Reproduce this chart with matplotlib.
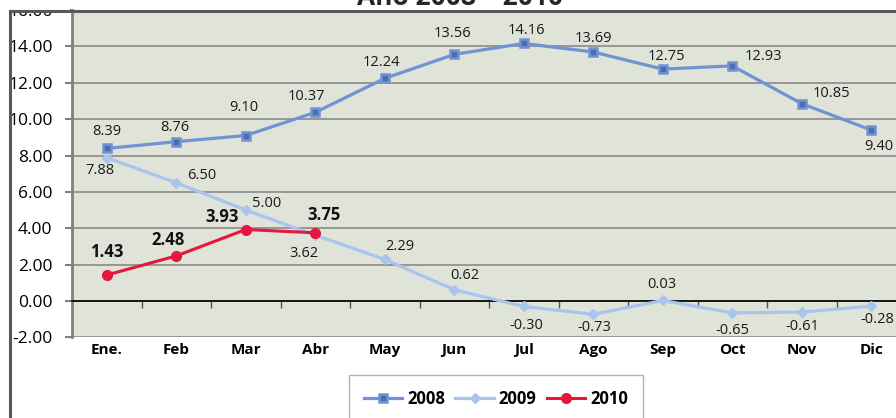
import matplotlib.pyplot as plt
from matplotlib.lines import Line2D
from matplotlib.patches import Rectangle

plt.rcParams['font.family'] = ['Open Sans', 'DejaVu Sans']

meses = ['Ene.', 'Feb', 'Mar', 'Abr', 'May', 'Jun', 'Jul', 'Ago', 'Sep', 'Oct', 'Nov', 'Dic']
v2008 = [8.39, 8.76, 9.10, 10.37, 12.24, 13.56, 14.16, 13.69, 12.75, 12.93, 10.85, 9.40]
v2009 = [7.88, 6.50, 5.00, 3.62, 2.29, 0.62, -0.30, -0.73, 0.03, -0.65, -0.61, -0.28]
v2010 = [1.43, 2.48, 3.93, 3.75]

# label offsets in pixels
off2008 = [(0, 17), (-1, 14), (-2, 28), (-9, 16), (-3, 16), (-2, 21), (3, 13), (0, 14),
           (4, 13), (31, 9), (30, 10), (8, -16)]
off2009 = [(-7, -13), (25, 7), (21, 7), (-11, -18), (15, 13), (11, 14), (3, -19), (1, -13),
           (-1, 16), (0, -18), (1, -14), (6, -13)]
off2010 = [(0, 23), (-8, 16), (-24, 13), (9, 18)]

c08, c08m = '#7093d4', '#4d6db3'
c09 = '#a9c5ee'
c10 = '#e8163e'

fig = plt.figure(figsize=(8.96, 4.18), dpi=100)
ax = fig.add_axes([72 / 896, 1 - 337.4 / 418, 834 / 896, 327.4 / 418])
ax.set_facecolor('#dfe3d8')

x = list(range(len(meses)))
ax.plot(x, v2008, color=c08, lw=2.3, marker='s', ms=5.5, mfc=c08m, mec=c08, mew=1.8, label='2008', zorder=3)
ax.plot(x, v2009, color=c09, lw=2.3, marker='D', ms=5.5, mfc=c09, mec=c09, label='2009', zorder=3)
ax.plot(x[:len(v2010)], v2010, color=c10, lw=2.2, marker='o', ms=7, mfc=c10, mec=c10, label='2010', zorder=4)

for i, v in enumerate(v2008):
    ax.annotate(f'{v:.2f}', (i, v), xytext=off2008[i], textcoords='offset pixels',
                ha='center', va='center', fontsize=10.5, color='#1a1a1a')
for i, v in enumerate(v2009):
    ax.annotate(f'{v:.2f}', (i, v), xytext=off2009[i], textcoords='offset pixels',
                ha='center', va='center', fontsize=10.5, color='#1a1a1a')
for i, v in enumerate(v2010):
    ax.annotate(f'{v:.2f}', (i, v), xytext=off2010[i], textcoords='offset pixels',
                ha='center', va='center', fontsize=12, fontweight='bold', color='#111111')

ax.set_xlim(-0.5, 11.5)
ax.set_ylim(-2, 16)
ax.set_yticks(range(-2, 17, 2))
ax.set_yticklabels([f'{t:.2f}' for t in range(-2, 17, 2)])
ax.yaxis.grid(True, color='#8a8a8a', lw=1.2)
ax.set_axisbelow(True)

ax.spines['top'].set_visible(False)
ax.spines['right'].set_visible(False)
ax.spines['left'].set_color('#808080')
ax.spines['left'].set_linewidth(2)
ax.spines['bottom'].set_position(('data', 0))
ax.spines['bottom'].set_color('black')
ax.spines['bottom'].set_linewidth(1.2)

ax.set_xticks(x)
ax.set_xticklabels(meses, fontweight='bold', fontsize=11)
ax.set_xticks([i + 0.5 for i in x[:-1]], minor=True)
ax.tick_params(axis='x', which='major', length=0, pad=30)
ax.tick_params(axis='x', which='minor', length=5, width=1, color='#555555', direction='out')
ax.tick_params(axis='y', length=5, width=1.5, color='#808080', labelsize=12.5, pad=9)

fig.text(460 / 896, 1 - 5 / 418, 'Año 2008 – 2010', ha='center', va='baseline',
         fontsize=19, fontweight='bold', color='#262626')

# the top tick label is clipped by the chart frame
fig.add_artist(Rectangle((0, 1 - 11 / 418), 70 / 896, 11 / 418, transform=fig.transFigure,
                         facecolor='white', edgecolor='none', zorder=5))
fig.add_artist(Line2D([10 / 896, 1.01], [1 - 10.5 / 418] * 2, color='#595959', lw=2.2, zorder=6))
fig.add_artist(Line2D([10 / 896] * 2, [-0.05, 1 - 10.5 / 418], color='#595959', lw=2.2, zorder=6))

leg = fig.legend(loc='upper center', bbox_to_anchor=(496 / 896, 1 - 375 / 418), ncol=3,
                 frameon=True, fancybox=False, edgecolor='#a0a0a0', borderaxespad=0,
                 prop={'weight': 'bold', 'size': 12}, handlelength=2.3, handletextpad=0.3,
                 columnspacing=0.6, borderpad=0.9)
leg.get_frame().set_linewidth(1)

fig.savefig('out.png', dpi=100)
